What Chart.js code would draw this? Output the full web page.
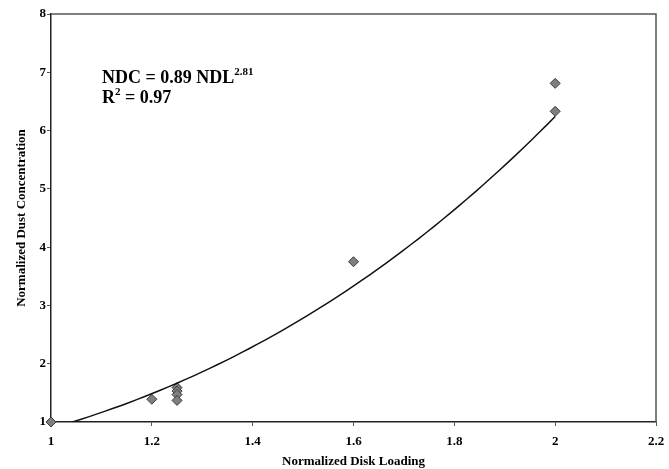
<!DOCTYPE html>
<html>
<head>
<meta charset="utf-8">
<script src="https://cdn.jsdelivr.net/npm/chart.js@4.4.1/dist/chart.umd.min.js"></script>
<style>
  html, body { margin: 0; padding: 0; background: #fff; }
  #wrap { width: 669px; height: 469px; }
</style>
</head>
<body>
<div id="wrap"><canvas id="grafico"></canvas></div>
<script>
// measured points
const diskLoading = [1, 1.2, 1.25, 1.25, 1.25, 1.25, 1.6, 2, 2];
const dustConc = [1, 1.39, 1.59, 1.53, 1.47, 1.37, 3.75, 6.81, 6.33];

// power fit NDC = a * NDL^b
const fitA = 0.89;
const fitB = 2.81;
const fitR2 = 0.97;

const xTicks = [1, 1.2, 1.4, 1.6, 1.8, 2, 2.2];
const yTicks = [1, 2, 3, 4, 5, 6, 7, 8];

const puntos = diskLoading.map((x, i) => ({ x: x, y: dustConc[i] }));

// trend line from the fit, clipped where it drops under the axis
const curva = [];
const xStart = Math.pow(1 / fitA, 1 / fitB);
for (let i = 0; i <= 60; i++) {
    const x = xStart + (2 - xStart) * i / 60;
    curva.push({ x: x, y: fitA * Math.pow(x, fitB) });
}

const fuente = "'Liberation Serif', 'Times New Roman', serif";

// frame + equation text
const extras = {
    id: 'extras',
    afterDraw(chart) {
        const c = chart.ctx;
        const a = chart.chartArea;
        c.save();
        c.strokeStyle = '#555';
        c.lineWidth = 1.5;
        c.beginPath();
        c.moveTo(a.left, a.top);
        c.lineTo(a.right, a.top);
        c.lineTo(a.right, a.bottom);
        c.stroke();

        c.fillStyle = '#000';
        c.textBaseline = 'alphabetic';
        c.font = 'bold 18px ' + fuente;
        const l1 = 'NDC = ' + fitA.toFixed(2) + ' NDL';
        c.fillText(l1, 102, 83);
        const w1 = c.measureText(l1).width;
        c.font = 'bold 11px ' + fuente;
        c.fillText(fitB.toFixed(2), 102 + w1, 75);

        c.font = 'bold 18px ' + fuente;
        c.fillText('R', 102, 103);
        const wr = c.measureText('R').width;
        c.font = 'bold 11px ' + fuente;
        c.fillText('2', 102 + wr, 95);
        const w2 = c.measureText('2').width;
        c.font = 'bold 18px ' + fuente;
        c.fillText(' = ' + fitR2.toFixed(2), 102 + wr + w2, 103);
        c.restore();
    }
};

const ctx = document.getElementById('grafico').getContext('2d');
const grafico = new Chart(ctx, {
    type: 'scatter',
    data: {
        datasets: [
            {
                label: 'Ajuste',
                data: curva,
                showLine: true,
                borderColor: '#111',
                borderWidth: 1.5,
                pointRadius: 0,
                fill: false,
                tension: 0
            },
            {
                label: 'Datos',
                data: puntos,
                clip: false,
                pointStyle: 'rectRot',
                pointRadius: 5,
                pointBackgroundColor: '#7f7f7f',
                pointBorderColor: '#3a3a3a',
                pointBorderWidth: 1
            }
        ]
    },
    options: {
        responsive: true,
        maintainAspectRatio: false,
        animation: false,
        layout: { padding: { top: 14, right: 13, left: 0, bottom: 0 } },
        plugins: {
            legend: { display: false },
            tooltip: { enabled: false }
        },
        scales: {
            x: {
                type: 'linear',
                min: 1,
                max: 2.2,
                afterBuildTicks: (axis) => { axis.ticks = xTicks.map(v => ({ value: v })); },
                afterFit: (axis) => {
                    axis.height = 47;
                    axis.paddingLeft = 0;
                    axis.paddingRight = 0;
                },
                ticks: {
                    color: '#000',
                    font: { family: fuente, size: 13, weight: 'bold' },
                    padding: 8,
                    maxRotation: 0,
                    callback: (v) => String(Math.round(v * 10) / 10)
                },
                grid: { display: true, drawOnChartArea: false, tickLength: 4, color: '#555' },
                border: { display: true, color: '#222', width: 1.5 },
                title: {
                    display: true,
                    text: 'Normalized Disk Loading',
                    color: '#000',
                    font: { family: fuente, size: 13, weight: 'bold' },
                    padding: { top: 4, bottom: 0 }
                }
            },
            y: {
                type: 'linear',
                min: 1,
                max: 8,
                afterBuildTicks: (axis) => { axis.ticks = yTicks.map(v => ({ value: v })); },
                afterFit: (axis) => {
                    axis.width = 51;
                    axis.paddingTop = 0;
                    axis.paddingBottom = 0;
                },
                ticks: {
                    color: '#000',
                    font: { family: fuente, size: 13, weight: 'bold' },
                    padding: 1
                },
                grid: { display: true, drawOnChartArea: false, tickLength: 4, color: '#555' },
                border: { display: true, color: '#222', width: 1.5 },
                title: {
                    display: true,
                    text: 'Normalized Dust Concentration',
                    color: '#000',
                    font: { family: fuente, size: 13, weight: 'bold' },
                    padding: { top: 14, bottom: 0 }
                }
            }
        }
    },
    plugins: [extras]
});
</script>
</body>
</html>
